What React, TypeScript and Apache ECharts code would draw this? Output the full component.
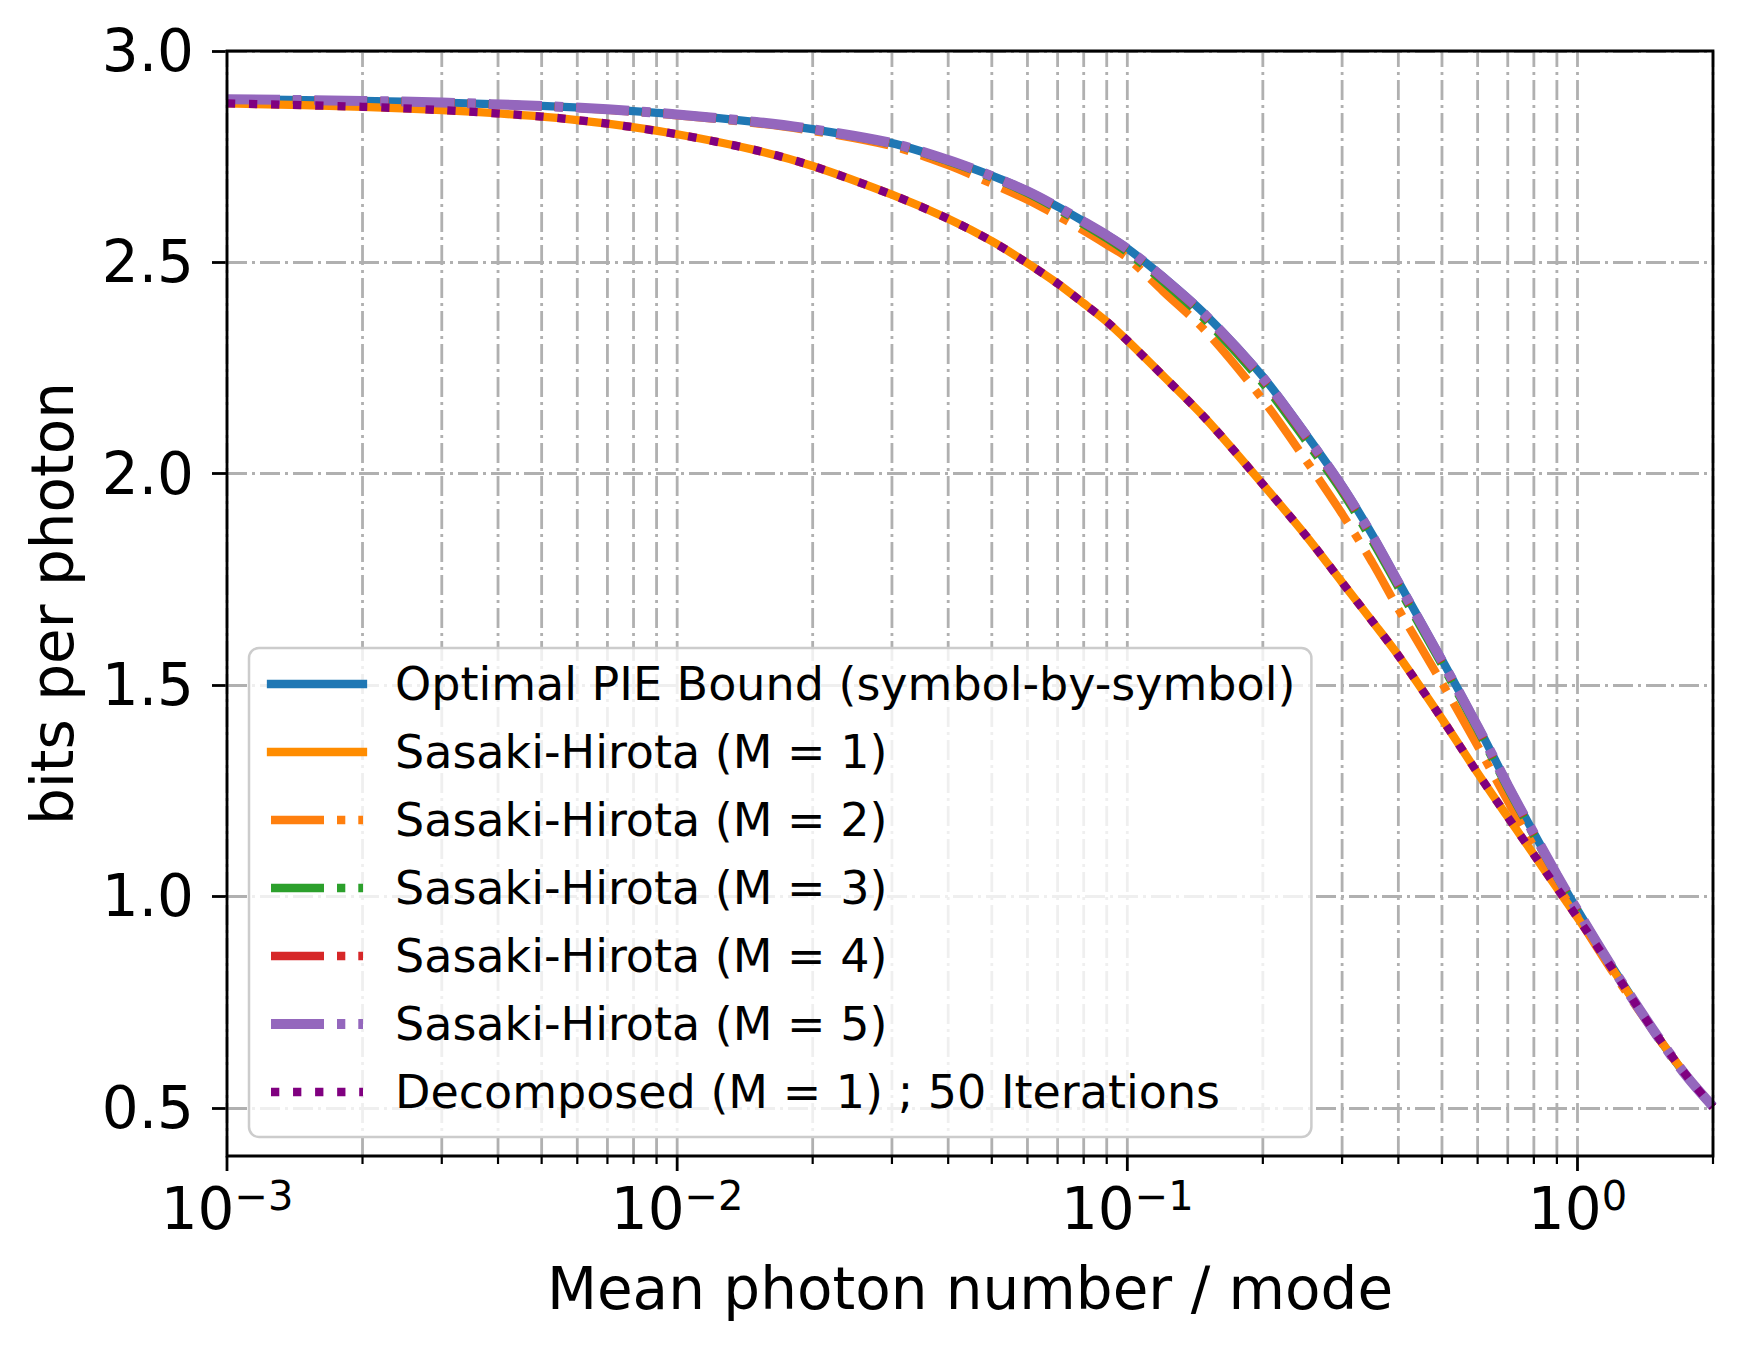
import React, { useEffect, useRef } from 'react';
import * as echarts from 'echarts';

const FONT = 'DejaVu Sans';

// Mean photon number / mode (x) sample positions
const X_VALUES = [
  0.001, 0.002, 0.003, 0.005, 0.007, 0.01, 0.015, 0.02, 0.03, 0.04, 0.05, 0.06, 0.07, 0.08, 0.09,
  0.1, 0.12, 0.15, 0.2, 0.25, 0.3, 0.35, 0.4, 0.5, 0.6, 0.7, 0.8, 0.9, 1.0, 1.2, 1.5, 1.75, 2.0,
];

// bits per photon
const OPTIMAL_PIE = [
  2.886, 2.882, 2.878, 2.870, 2.862, 2.850, 2.832, 2.815, 2.782, 2.742, 2.705, 2.669, 2.632, 2.597, 2.565,
  2.533, 2.466, 2.374, 2.230, 2.092, 1.972, 1.856, 1.745, 1.560, 1.404, 1.265, 1.150, 1.052, 0.968, 0.830, 0.672, 0.574, 0.503,
];
const SH_M1 = [
  2.876, 2.868, 2.860, 2.845, 2.828, 2.803, 2.765, 2.728, 2.660, 2.603, 2.550, 2.498, 2.450, 2.403, 2.360,
  2.315, 2.232, 2.128, 1.975, 1.852, 1.743, 1.651, 1.570, 1.420, 1.292, 1.188, 1.099, 1.020, 0.950, 0.826, 0.672, 0.575, 0.502,
];
const SH_M2 = [
  2.886, 2.882, 2.878, 2.869, 2.861, 2.848, 2.829, 2.811, 2.775, 2.730, 2.686, 2.648, 2.610, 2.575, 2.542,
  2.511, 2.432, 2.335, 2.175, 2.030, 1.905, 1.790, 1.680, 1.505, 1.356, 1.226, 1.118, 1.028, 0.952, 0.820, 0.670, 0.574, 0.503,
];
const SH_M3 = [
  2.886, 2.882, 2.878, 2.870, 2.862, 2.850, 2.831, 2.814, 2.780, 2.739, 2.701, 2.664, 2.626, 2.590, 2.557,
  2.524, 2.455, 2.361, 2.214, 2.076, 1.957, 1.841, 1.731, 1.548, 1.394, 1.256, 1.144, 1.047, 0.964, 0.827, 0.671, 0.574, 0.503,
];
const SH_M4 = [
  2.886, 2.882, 2.878, 2.870, 2.862, 2.850, 2.832, 2.815, 2.781, 2.741, 2.703, 2.667, 2.629, 2.594, 2.561,
  2.529, 2.461, 2.368, 2.222, 2.084, 1.964, 1.848, 1.738, 1.554, 1.399, 1.261, 1.147, 1.050, 0.966, 0.829, 0.672, 0.574, 0.503,
];
const SH_M5 = [
  2.886, 2.882, 2.878, 2.870, 2.862, 2.850, 2.832, 2.815, 2.782, 2.742, 2.704, 2.668, 2.631, 2.596, 2.564,
  2.532, 2.464, 2.372, 2.227, 2.089, 1.969, 1.853, 1.742, 1.557, 1.402, 1.263, 1.149, 1.051, 0.967, 0.829, 0.672, 0.574, 0.503,
];
const DECOMPOSED_M1 = [
  2.876, 2.868, 2.860, 2.845, 2.828, 2.803, 2.765, 2.728, 2.660, 2.603, 2.550, 2.498, 2.450, 2.403, 2.360,
  2.315, 2.232, 2.128, 1.975, 1.852, 1.743, 1.651, 1.570, 1.420, 1.292, 1.188, 1.099, 1.020, 0.950, 0.826, 0.672, 0.575, 0.502,
];

const SERIES_NAMES = [
  'Optimal PIE Bound (symbol-by-symbol)',
  'Sasaki-Hirota (M = 1)',
  'Sasaki-Hirota (M = 2)',
  'Sasaki-Hirota (M = 3)',
  'Sasaki-Hirota (M = 4)',
  'Sasaki-Hirota (M = 5)',
  'Decomposed (M = 1) ; 50 Iterations',
];

const X_MAJOR_TICKS = [0.001, 0.01, 0.1, 1];
const X_MINOR_TICKS = [
  0.002, 0.003, 0.004, 0.005, 0.006, 0.007, 0.008, 0.009,
  0.02, 0.03, 0.04, 0.05, 0.06, 0.07, 0.08, 0.09,
  0.2, 0.3, 0.4, 0.5, 0.6, 0.7, 0.8, 0.9, 2,
];
const Y_TICKS = [0.5, 1.0, 1.5, 2.0, 2.5, 3.0];

const X_MIN = 0.001;
const X_MAX = 2;
const Y_MIN = 0.386;
const Y_MAX = 3.0;

const LW = 8.3;
const LW_M5 = 10;
const DASHDOT = [53, 13, 8.3, 13];
const DOTTED = [8.3, 13.75];
const GRID_DASH = [20, 5, 3, 5];
const GRID_COLOR = '#b0b0b0';
const SPINE = 2.8;

const pair = (ys: number[]) => X_VALUES.map((x, i) => [x, ys[i]]);

function lineSeries(name: string, ys: number[], color: string, type: any, width: number) {
  return {
    type: 'line',
    name,
    data: pair(ys),
    symbol: 'none',
    showSymbol: false,
    smooth: 0.3,
    z: 3,
    lineStyle: { color, width, type, cap: 'butt' },
    itemStyle: { color },
    emphasis: { disabled: true },
  };
}

export default function App() {
  const ref = useRef<HTMLDivElement>(null);

  useEffect(() => {
    document.body.style.margin = '0';
    const chart = echarts.init(ref.current as HTMLDivElement, undefined, { renderer: 'svg' });

    const gridData = [
      ...X_MAJOR_TICKS.map((v) => [v, 1.0, 1]),
      ...X_MINOR_TICKS.map((v) => [v, 1.0, 0]),
    ];

    const legendData = SERIES_NAMES.map((n, i) => ({
      name: n,
      lineStyle: { width: i === 5 ? LW_M5 : LW, cap: i < 2 ? 'square' : 'butt' },
    }));

    const option: any = {
      animation: false,
      backgroundColor: '#ffffff',
      grid: {
        left: 227,
        right: 30,
        top: 51,
        bottom: 194,
        show: false,
      },
      xAxis: {
        type: 'log',
        logBase: 10,
        min: X_MIN,
        max: X_MAX,
        name: 'Mean photon number / mode',
        nameLocation: 'middle',
        nameGap: 104,
        nameTextStyle: { fontSize: 58, fontFamily: FONT, color: '#000' },
        axisLine: { show: false },
        axisTick: { show: false },
        splitLine: { show: false },
        minorTick: { show: false },
        axisLabel: {
          margin: 20,
          formatter: (v: number) => {
            const lg = Math.log10(v);
            const e = Math.round(lg);
            if (Math.abs(lg - e) > 1e-6) return '';
            const s = (e < 0 ? '\u2212' : '') + Math.abs(e);
            return '{b|10}{s|' + s + '}';
          },
          rich: {
            b: { fontSize: 58, fontFamily: FONT, color: '#000', lineHeight: 66 },
            s: { fontSize: 40, fontFamily: FONT, color: '#000', lineHeight: 32, verticalAlign: 'top' },
          },
        },
      },
      yAxis: {
        type: 'value',
        min: Y_MIN,
        max: Y_MAX,
        splitNumber: 5,
        name: 'bits per photon',
        nameLocation: 'middle',
        nameGap: 145,
        nameRotate: 90,
        nameTextStyle: { fontSize: 58, fontFamily: FONT, color: '#000' },
        axisLine: { show: false },
        axisTick: {
          show: true,
          length: 15,
          customValues: Y_TICKS,
          lineStyle: { color: '#000', width: SPINE },
        },
        axisLabel: {
          margin: 33,
          customValues: Y_TICKS,
          fontSize: 58,
          fontFamily: FONT,
          color: '#000',
          formatter: (v: number) => (Math.abs(v * 2 - Math.round(v * 2)) < 1e-9 ? v.toFixed(1) : ''),
        },
        splitLine: { show: true, lineStyle: { color: GRID_COLOR, width: SPINE, type: GRID_DASH } },
      },
      legend: {
        data: legendData,
        orient: 'vertical',
        left: 249,
        top: 648,
        itemWidth: 92,
        itemHeight: 14,
        itemGap: 22,
        padding: [13, 16, 22, 17],
        backgroundColor: 'rgba(255,255,255,0.8)',
        borderColor: '#cccccc',
        borderWidth: 2.5,
        borderRadius: 10,
        selectedMode: false,
        itemStyle: { opacity: 0 },
        textStyle: { fontSize: 46, fontFamily: FONT, color: '#000', lineHeight: 45, padding: [0, 0, 0, 27] },
      },
      series: [
        {
          type: 'custom',
          name: 'grid-x',
          silent: true,
          clip: false,
          z: 1,
          data: gridData,
          encode: { x: 0, y: 1 },
          renderItem: (params: any, api: any) => {
            const xv = api.value(0);
            const major = api.value(2) === 1;
            const p0 = api.coord([xv, Y_MIN]);
            const p1 = api.coord([xv, Y_MAX]);
            return {
              type: 'group',
              children: [
                {
                  type: 'line',
                  shape: { x1: p0[0], y1: p0[1], x2: p1[0], y2: p1[1] },
                  style: { stroke: GRID_COLOR, lineWidth: SPINE, lineDash: GRID_DASH, fill: null },
                },
                {
                  type: 'line',
                  shape: { x1: p0[0], y1: p0[1], x2: p0[0], y2: p0[1] + (major ? 15 : 8) },
                  style: { stroke: '#000', lineWidth: major ? SPINE : 2.2, fill: null },
                },
              ],
            };
          },
        },
        lineSeries(SERIES_NAMES[0], OPTIMAL_PIE, '#1f77b4', 'solid', LW),
        lineSeries(SERIES_NAMES[1], SH_M1, '#ff8c00', 'solid', LW),
        lineSeries(SERIES_NAMES[2], SH_M2, '#ff7f0e', DASHDOT, LW),
        lineSeries(SERIES_NAMES[3], SH_M3, '#2ca02c', DASHDOT, LW),
        lineSeries(SERIES_NAMES[4], SH_M4, '#d62728', DASHDOT, LW),
        lineSeries(SERIES_NAMES[5], SH_M5, '#9467bd', DASHDOT, LW_M5),
        lineSeries(SERIES_NAMES[6], DECOMPOSED_M1, '#800080', DOTTED, LW),
        {
          type: 'custom',
          name: 'frame',
          silent: true,
          clip: false,
          z: 10,
          data: [[X_MIN, Y_MIN]],
          encode: { x: 0, y: 1 },
          renderItem: (params: any, api: any) => {
            const a = api.coord([X_MIN, Y_MAX]);
            const b = api.coord([X_MAX, Y_MIN]);
            return {
              type: 'rect',
              shape: { x: a[0], y: a[1], width: b[0] - a[0], height: b[1] - a[1] },
              style: { stroke: '#000', lineWidth: SPINE, fill: null },
            };
          },
        },
      ],
    };

    chart.setOption(option);
    return () => {
      chart.dispose();
    };
  }, []);

  return (
    <div
      ref={ref}
      style={{ position: 'absolute', left: 0, top: 0, width: 1743, height: 1350 }}
    />
  );
}
